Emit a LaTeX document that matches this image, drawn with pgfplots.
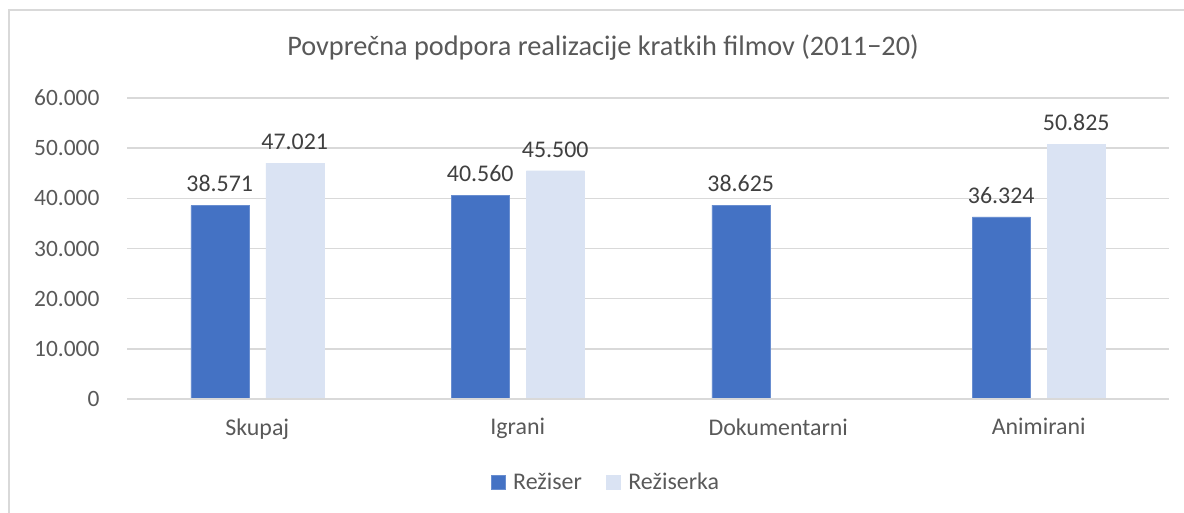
\documentclass[border=0pt]{standalone}
\usepackage{fontspec}
\setmainfont{Carlito}
\usepackage{pgfplots}
\pgfplotsset{compat=1.18}
\definecolor{cBlue}{HTML}{4472C4}
\definecolor{cLight}{HTML}{DAE3F3}
\definecolor{cGrid}{HTML}{D9D9D9}
\definecolor{cText}{HTML}{595959}
\definecolor{cLab}{HTML}{404040}
\begin{document}
\begin{tikzpicture}[x=1bp,y=1bp]
\useasboundingbox (0,0) rectangle (1184,-513);
\fill[white] (0,0) rectangle (1184,-513);
\draw[cGrid,line width=2bp] (9,-513) -- (9,-10) -- (1184,-10);
\node[text=cText,font=\fontsize{28.4}{32}\selectfont] at (603,-48) {Povprečna podpora realizacije kratkih filmov (2011−20)};
\begin{axis}[
  at={(127bp,-399bp)}, anchor=south west,
  scale only axis, width=1042bp, height=301bp,
  ymin=0, ymax=60000, xmin=-0.5, xmax=3.5,
  ybar=17bp, bar width=58bp,
  axis line style={draw=none},
  major tick length=0pt,
  ytick={0,10000,...,60000},
  ymajorgrids, grid style={cGrid,line width=1.5bp},
  yticklabel style={text=cText,font=\fontsize{23.5}{27}\selectfont},
  xticklabel style={text=cText,font=\fontsize{24}{28}\selectfont},
  scaled y ticks=false,
  yticklabel={\pgfmathprintnumber[use comma=false,1000 sep={.},fixed]{\tick}},
  /pgf/number format/assume math mode=true,
  /pgf/number format/1000 sep={.},
  xtick={0,1,2,3},
  xticklabels={Skupaj,Igrani,Dokumentarni,Animirani},
  xticklabel shift=16bp,
  yticklabel shift=24bp,
  nodes near coords,
  nodes near coords style={text=cLab,font=\fontsize{24}{28}\selectfont,/pgf/number format/1000 sep={.},/pgf/number format/assume math mode=true,yshift=10bp},
  legend style={at={(0.4596,-0.275)},anchor=center,draw=none,legend columns=2,
    font=\fontsize{24}{28}\selectfont,text=cText,
    /tikz/every odd column/.append style={column sep=6bp},
    /tikz/every even column/.append style={column sep=22bp}},
  legend image code/.code={\fill[#1] (0bp,-7bp) rectangle (14bp,7bp);},
  clip=false,
]
\addplot[fill=cBlue,draw=cBlue!80!white] coordinates {(0,38571) (1,40560) (2,38625) (3,36324)};
\addplot[fill=cLight,draw=cLight] coordinates {(0,47021) (1,45500) (3,50825)};
\legend{Režiser,Režiserka}
\draw[cGrid,line width=1.5bp] (axis cs:-0.5,0) -- (axis cs:3.5,0);
\end{axis}
\end{tikzpicture}
\end{document}
